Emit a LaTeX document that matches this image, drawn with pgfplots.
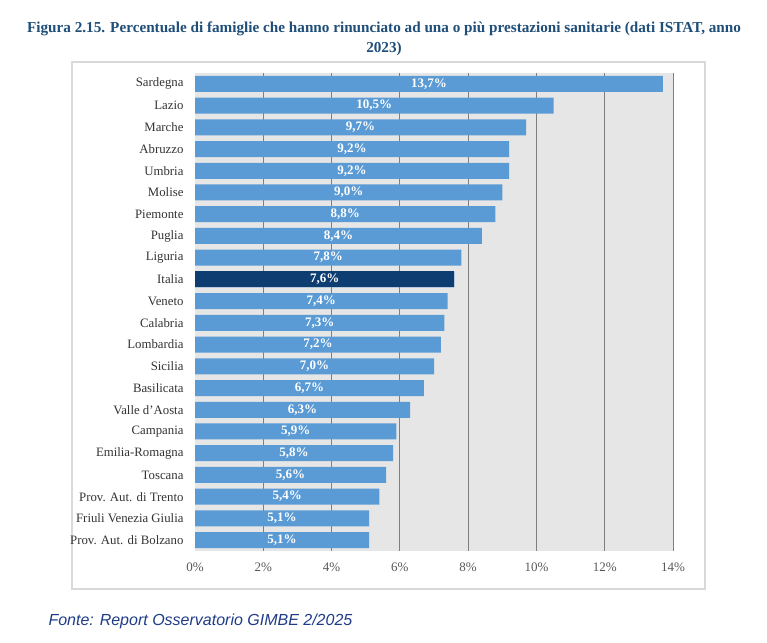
\documentclass[border=0pt]{standalone}
\usepackage{pgfplots}
\pgfplotsset{compat=1.18}
\usepackage{pgfplotstable}
\usepackage{fontspec}
\setmainfont{Liberation Serif}
\newfontfamily\sansf{Liberation Sans}
\definecolor{barblue}{HTML}{5B9BD5}
\definecolor{italia}{HTML}{0E3D72}
\definecolor{titleblue}{HTML}{1F4E79}
\definecolor{fonteblue}{HTML}{1F3C88}
\definecolor{plotbg}{HTML}{E6E6E6}
\definecolor{gridc}{HTML}{7F7F7F}
\definecolor{boxc}{HTML}{D9D9D9}
\definecolor{ticktext}{HTML}{595959}

\pgfplotstableread[col sep=comma]{
y,val,half,lab
0,13.7,6.85,{13,7\%}
1,10.5,5.25,{10,5\%}
2,9.7,4.85,{9,7\%}
3,9.2,4.6,{9,2\%}
4,9.2,4.6,{9,2\%}
5,9.0,4.5,{9,0\%}
6,8.8,4.4,{8,8\%}
7,8.4,4.2,{8,4\%}
8,7.8,3.9,{7,8\%}
9,7.6,3.8,{7,6\%}
10,7.4,3.7,{7,4\%}
11,7.3,3.65,{7,3\%}
12,7.2,3.6,{7,2\%}
13,7.0,3.5,{7,0\%}
14,6.7,3.35,{6,7\%}
15,6.3,3.15,{6,3\%}
16,5.9,2.95,{5,9\%}
17,5.8,2.9,{5,8\%}
18,5.6,2.8,{5,6\%}
19,5.4,2.7,{5,4\%}
20,5.1,2.55,{5,1\%}
21,5.1,2.55,{5,1\%}
}\datatab

\pgfplotstableread[col sep=comma]{
y,val
9,7.6
}\italiatab

\begin{document}
\begin{tikzpicture}[x=1bp,y=1bp]
\path[use as bounding box] (0,0) rectangle (767,643);
\fill[white] (0,0) rectangle (767,643);
% outer box
\draw[boxc, line width=1.2bp, fill=white] (72,643-62) rectangle (705,643-589);
% title
\node[align=center, font=\fontsize{15.2bp}{20bp}\selectfont\bfseries, text=titleblue] at (384,643-39)
  {Figura 2.15. Percentuale di famiglie che hanno rinunciato ad una o più prestazioni sanitarie (dati ISTAT, anno\\2023)};
% source
\node[anchor=west, font=\sansf\itshape\fontsize{16bp}{18bp}\selectfont, text=fonteblue] at (45,643-621)
  {Fonte: Report Osservatorio GIMBE 2/2025};
\begin{axis}[
  at={(195bp,92bp)}, anchor=south west,
  width=478bp, height=478bp, scale only axis,
  xmin=0, xmax=14, ymin=-0.5, ymax=21.5, y dir=reverse,
  axis background/.style={fill=plotbg},
  axis line style={draw=none},
  xtick={0,2,...,14},
  xticklabels={0\%,2\%,4\%,6\%,8\%,10\%,12\%,14\%},
  extra x ticks={2,4,...,14}, extra x tick labels={},
  extra x tick style={grid=major, major grid style={gridc, line width=0.9bp}},
  major tick length=0pt,
  ytick={0,...,21},
  yticklabels={Sardegna,Lazio,Marche,Abruzzo,Umbria,Molise,Piemonte,Puglia,Liguria,Italia,Veneto,Calabria,Lombardia,Sicilia,Basilicata,Valle d'Aosta,Campania,Emilia-Romagna,Toscana,Prov. Aut. di Trento,Friuli Venezia Giulia,Prov. Aut. di Bolzano},
  y tick label style={font=\fontsize{12.8bp}{14bp}\selectfont, text=black!80, xshift=-8bp},
  x tick label style={font=\fontsize{13bp}{14bp}\selectfont, text=ticktext, yshift=-8bp},
  clip=false,
]
\addplot[xbar, bar width=16bp, fill=barblue, draw=none] table[x=val, y=y] {\datatab};
\addplot[xbar, bar width=16bp, fill=italia, draw=none] table[x=val, y=y] {\italiatab};
\addplot[draw=none, mark=none, nodes near coords, point meta=explicit symbolic,
  every node near coord/.append style={anchor=center, text=white, font=\fontsize{13bp}{14bp}\selectfont\bfseries}]
  table[x=half, y=y, meta=lab] {\datatab};
\end{axis}
\end{tikzpicture}
\end{document}
